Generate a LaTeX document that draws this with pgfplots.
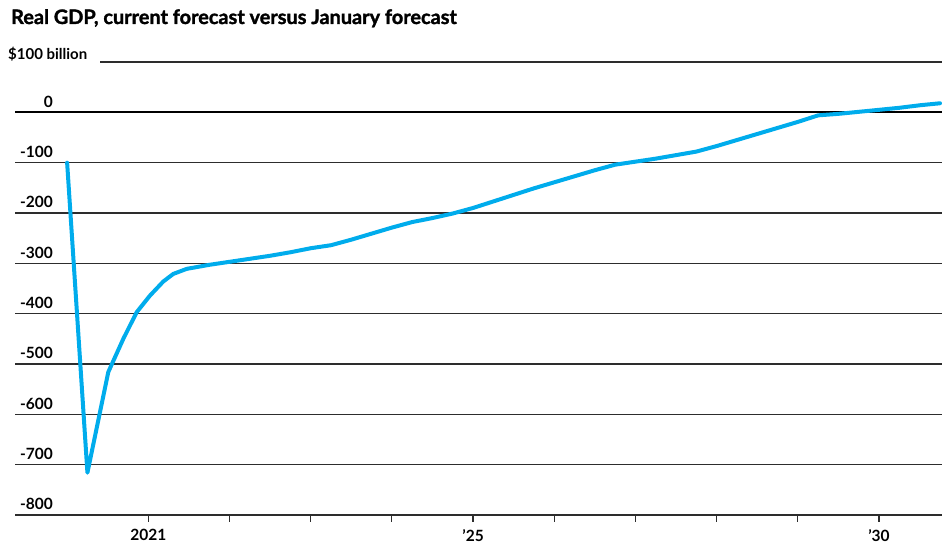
\documentclass[border=0pt]{standalone}
\usepackage{pgfplots}
\pgfplotsset{compat=1.18}
\usepackage{fontspec}
\setmainfont{Lato}
\newfontfamily\heavyfont[BoldFeatures={FakeBold=1.6}]{Lato}
\definecolor{linecol}{RGB}{0,172,236}
\definecolor{gridc}{RGB}{45,45,45}
\begin{document}
\begin{tikzpicture}[x=1pt,y=1pt]
\path[use as bounding box] (0,0) rectangle (942,545);
\node[anchor=base west, font=\heavyfont\fontsize{19.9}{21}\selectfont\bfseries, inner sep=0] at (11,521) {Real GDP, current forecast versus January forecast};
\begin{axis}[
  at={(15pt,30pt)}, anchor=south west,
  scale only axis, width=927pt, height=453pt,
  xmin=2019.358, xmax=2030.775, ymin=-800, ymax=100,
  axis x line*=bottom, axis y line*=left,
  x axis line style={-, gridc, line width=1.3pt},
  y axis line style={draw=none},
  ytick style={draw=none},
  xtick={2021,...,2030},
  xticklabels={2021,{},{},{},’25,{},{},{},{},’30},
  tick align=outside, major tick length=7pt,
  xtick style={gridc, line width=1.2pt},
  ytick={-800,-700,...,-100},
  yticklabels={-800,-700,-600,-500,-400,-300,-200,-100},
  extra y ticks={0}, extra y tick labels={0},
  extra y tick style={grid style={black, line width=2pt}, ytick style={draw=none}},
  ymajorgrids, grid style={gridc, line width=1.1pt},
  ticklabel style={font=\fontsize{15.5}{17}\selectfont\bfseries},
  yticklabel style={anchor=base east, inner sep=0, xshift=45pt, yshift=5pt},
  xticklabel style={inner sep=0, yshift=-7pt},
  clip=false,
]
\draw[gridc, line width=1.1pt] (axis cs:2020.405,100) -- (axis cs:2030.775,100);
\node[anchor=base west, inner sep=0, font=\fontsize{15}{17}\selectfont\bfseries, xshift=-7pt, yshift=2pt] at (axis cs:2019.358,100) {\$100 billion};
\addplot[linecol, line width=4pt, line join=round, line cap=round] coordinates {
(2020.0,-100) (2020.25,-716) (2020.507,-516) (2020.692,-450) (2020.857,-397)
(2021.021,-364) (2021.185,-336) (2021.308,-321) (2021.473,-311) (2021.75,-303)
(2022.0,-297) (2022.25,-291) (2022.5,-285) (2022.75,-278) (2023.0,-270)
(2023.25,-264) (2023.5,-253) (2023.75,-241) (2024.0,-229) (2024.25,-218)
(2024.5,-210) (2024.75,-201) (2025.0,-190) (2025.25,-177) (2025.5,-164)
(2025.75,-151) (2026.0,-139) (2026.25,-127) (2026.5,-115) (2026.75,-104)
(2027.0,-98) (2027.25,-92) (2027.5,-85) (2027.75,-78) (2028.0,-67)
(2028.25,-55) (2028.5,-43) (2028.75,-31) (2029.0,-19) (2029.25,-6)
(2029.5,-3) (2029.75,1) (2030.0,5) (2030.25,9) (2030.5,14) (2030.75,18)
};
\end{axis}
\end{tikzpicture}
\end{document}
